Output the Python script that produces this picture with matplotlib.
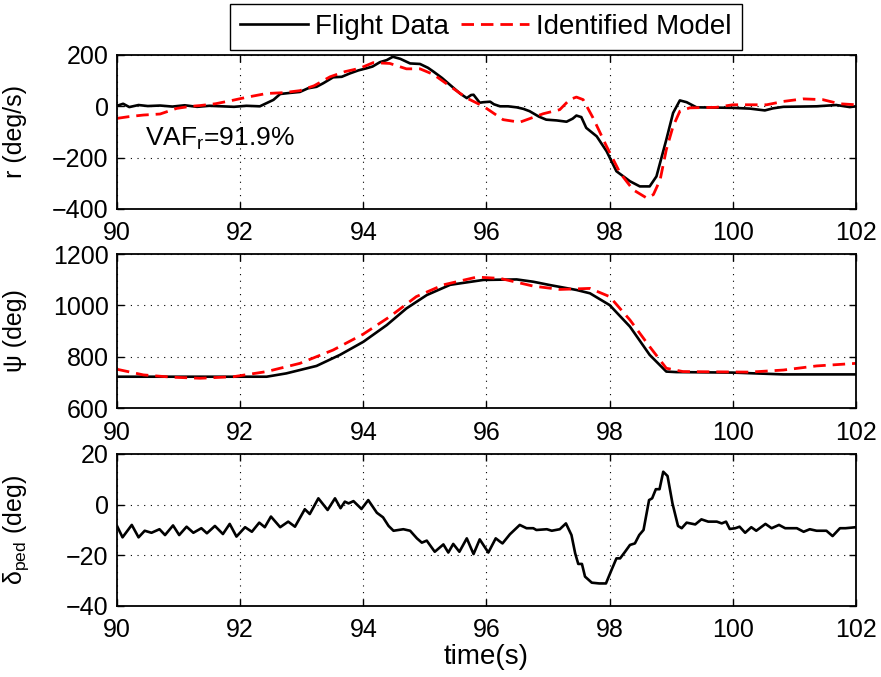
import matplotlib.pyplot as plt

plt.rcParams['font.family'] = ['Liberation Sans', 'DejaVu Sans']
plt.rcParams['font.size'] = 18
plt.rcParams['mathtext.fontset'] = 'custom'
plt.rcParams['mathtext.rm'] = 'Liberation Sans'

# yaw rate r (deg/s)
t_r_flight = [90.00, 90.10, 90.20, 90.35, 90.50, 90.70, 90.90, 91.10, 91.30, 91.50,
              91.70, 91.90, 92.10, 92.32, 92.54, 92.65, 92.80, 92.97, 93.10, 93.24,
              93.35, 93.51, 93.65, 93.78, 93.92, 94.05, 94.15, 94.27, 94.38, 94.48,
              94.60, 94.76, 94.92, 95.05, 95.14, 95.28, 95.41, 95.57, 95.68, 95.75,
              95.79, 95.89, 95.95, 96.06, 96.12, 96.22, 96.35, 96.49, 96.60, 96.70,
              96.85, 96.97, 97.14, 97.30, 97.40, 97.46, 97.54, 97.62, 97.79, 97.95,
              98.11, 98.33, 98.49, 98.65, 98.76, 98.92, 99.03, 99.14, 99.25, 99.41,
              99.73, 100.00, 100.28, 100.52, 100.65, 100.82, 101.10, 101.36, 101.68,
              101.90, 102.00]
r_flight = [2, 10, -3, 5, 1, 3, -1, 4, -2, 2,
            0, -2, 2, 0, 25, 48, 52, 56, 70, 76,
            90, 113, 115, 128, 140, 148, 155, 172, 180, 193,
            185, 167, 165, 150, 135, 110, 83, 50, 32, 44,
            45, 14, 16, 18, 8, 0, 0, -4, -10, -19,
            -40, -52, -55, -60, -48, -36, -42, -84, -117, -175,
            -253, -292, -312, -312, -273, -130, -26, 23, 16, -4,
            -5, -6, -9, -16, -8, -2, -1, 0, 5,
            -3, 0]

t_r_model = [90.00, 90.20, 90.43, 90.70, 90.97, 91.20, 91.35, 91.60, 91.89, 92.10,
             92.43, 92.70, 92.97, 93.20, 93.46, 93.70, 93.94, 94.16, 94.43, 94.70,
             94.92, 95.14, 95.41, 95.68, 95.95, 96.27, 96.54, 96.92, 97.19, 97.35,
             97.46, 97.57, 97.73, 97.95, 98.17, 98.38, 98.60, 98.71, 98.82, 98.92,
             99.03, 99.14, 99.30, 99.73, 100.00, 100.55, 100.82, 101.14, 101.46,
             101.73, 102.00]
r_model = [-47, -40, -34, -30, -8, 0, 3, 10, 24, 35,
           50, 53, 61, 80, 115, 135, 148, 170, 167, 146,
           146, 124, 78, 32, 0, -52, -62, -29, -13, 26,
           36, 26, -45, -156, -260, -325, -357, -344, -286, -169,
           -78, -19, -6, -4, 6, 6, 19, 29, 26,
           10, 6]

# heading psi (deg)
t_psi_flight = [90.0, 91.0, 92.0, 92.43, 92.75, 93.24, 93.62, 94.0, 94.38, 94.70,
                95.03, 95.41, 95.95, 96.49, 96.76, 97.03, 97.46, 97.68, 98.0, 98.33,
                98.65, 98.92, 99.08, 100.0, 100.82, 102.0]
psi_flight = [722, 722, 722, 722, 735, 764, 807, 858, 923, 988,
              1040, 1080, 1099, 1101, 1092, 1079, 1060, 1047, 1001, 917,
              807, 742, 740, 738, 731, 731]

t_psi_model = [90.0, 90.43, 90.9, 91.35, 91.89, 92.43, 92.97, 93.51, 94.0, 94.43,
               94.86, 95.30, 95.84, 96.22, 96.76, 97.19, 97.68, 98.0, 98.33, 98.65,
               98.92, 99.19, 100.28, 100.82, 101.36, 102.0]
psi_model = [751, 729, 720, 716, 722, 742, 774, 826, 888, 956,
             1034, 1080, 1110, 1105, 1075, 1062, 1066, 1034, 943, 839,
             755, 742, 740, 748, 764, 774]

# pedal input (deg)
t_ped = [90.00, 90.09, 90.24, 90.35, 90.45, 90.56, 90.69, 90.78, 90.91, 91.01,
         91.13, 91.24, 91.37, 91.46, 91.59, 91.72, 91.83, 91.94, 92.08, 92.19,
         92.31, 92.40, 92.50, 92.65, 92.78, 92.89, 93.05, 93.13, 93.27, 93.42,
         93.54, 93.63, 93.70, 93.76, 93.84, 93.97, 94.08, 94.22, 94.32, 94.41,
         94.49, 94.65, 94.76, 94.87, 94.95, 95.03, 95.16, 95.30, 95.38, 95.46,
         95.56, 95.68, 95.79, 95.89, 96.03, 96.15, 96.22, 96.26, 96.38, 96.54,
         96.65, 96.76, 96.81, 96.98, 97.06, 97.19, 97.29, 97.38, 97.44, 97.49,
         97.55, 97.60, 97.71, 97.83, 97.94, 98.03, 98.11, 98.17, 98.25, 98.33,
         98.41, 98.48, 98.55, 98.64, 98.69, 98.75, 98.81, 98.87, 98.94, 99.02,
         99.11, 99.17, 99.25, 99.39, 99.49, 99.60, 99.74, 99.82, 99.89, 99.95,
         100.04, 100.11, 100.20, 100.30, 100.38, 100.53, 100.63, 100.75, 100.85, 101.04,
         101.15, 101.25, 101.36, 101.52, 101.62, 101.74, 101.83, 102.00]
d_ped = [-8.4, -12.9, -8.0, -12.9, -10.3, -11.1, -9.7, -12.0, -8.2, -12.0,
         -8.7, -11.1, -9.3, -11.3, -8.4, -11.6, -7.6, -12.6, -8.9, -10.7,
         -7.1, -8.9, -4.7, -8.9, -6.7, -8.7, -1.8, -3.7, 2.5, -2.1,
         2.5, -1.4, 1.2, 0.5, 1.4, -1.7, 1.8, -3.2, -5.0, -8.4,
         -10.3, -9.7, -10.3, -13.3, -15.0, -14.2, -18.6, -15.7, -18.9, -15.5,
         -18.6, -13.3, -19.5, -13.7, -18.9, -13.3, -14.6, -15.3, -11.7, -8.0,
         -9.3, -9.3, -10.0, -9.7, -10.3, -9.7, -7.4, -12.0, -19.2, -23.4,
         -23.4, -28.4, -30.8, -31.1, -31.1, -25.8, -21.2, -21.2, -18.6, -15.9,
         -15.3, -12.0, -10.0, 1.8, 2.5, 6.1, 6.1, 13.0, 11.3, 0.5,
         -8.4, -9.3, -7.1, -7.8, -5.8, -6.7, -6.7, -7.4, -6.7, -9.6,
         -9.3, -8.7, -11.1, -8.9, -10.3, -7.6, -9.3, -8.0, -9.3, -9.3,
         -10.7, -9.7, -10.3, -10.3, -12.4, -9.3, -9.3, -8.9]

x_ticks = [90, 92, 94, 96, 98, 100, 102]

fig = plt.figure(figsize=(8.81, 6.77), dpi=100)
ax1 = fig.add_axes([0.1328, 0.6913, 0.8388, 0.2275])
ax2 = fig.add_axes([0.1328, 0.3973, 0.8388, 0.2275])
ax3 = fig.add_axes([0.1328, 0.1049, 0.8388, 0.2245])

black_kw = dict(color='k', lw=1.9)
red_kw = dict(color='r', lw=2.0, dashes=(4.5, 2.5))

h1, = ax1.plot(t_r_flight, r_flight, **black_kw)
h2, = ax1.plot(t_r_model, r_model, **red_kw)
ax1.set_ylim(-400, 200)
ax1.set_yticks([-400, -200, 0, 200])
ax1.set_ylabel('r (deg/s)')
ax1.text(90.45, -128, r'VAF$_{\mathrm{r}}$=91.9%', va='center', ha='left', fontsize=19)

ax2.plot(t_psi_flight, psi_flight, **black_kw)
ax2.plot(t_psi_model, psi_model, **red_kw)
ax2.set_ylim(600, 1200)
ax2.set_yticks([600, 800, 1000, 1200])
ax2.set_ylabel('ψ (deg)')

ax3.plot(t_ped, d_ped, **black_kw)
ax3.set_ylim(-40, 20)
ax3.set_yticks([-40, -20, 0, 20])
ax3.set_ylabel(r'$\mathrm{\delta_{ped}}$ (deg)')
ax3.set_xlabel('time(s)', fontsize=20, labelpad=1)

for ax in (ax1, ax2, ax3):
    ax.set_xlim(90, 102)
    ax.set_xticks(x_ticks)
    ax.grid(True, color='k', lw=0.8, linestyle=(0, (1, 5)))
    ax.tick_params(direction='in', top=True, right=True, length=5, width=1.0)
    ax.tick_params(axis='x', pad=9)
    ax.tick_params(axis='y', pad=6)
    ax.yaxis.set_label_coords(-0.122, 0.5)
    for s in ax.spines.values():
        s.set_linewidth(1.3)
ax3.yaxis.set_label_coords(-0.117, 0.5)

leg = fig.legend([h1, h2], ['Flight Data', 'Identified Model'], loc='center',
                 bbox_to_anchor=(0.5516, 0.960), ncol=2, fancybox=False,
                 edgecolor='k', fontsize=20, handlelength=2.45, handletextpad=0.25,
                 columnspacing=0.45, borderpad=0.35, borderaxespad=0)
leg.get_frame().set_linewidth(1.0)
leg.get_frame().set_alpha(1)

fig.savefig('out.png', dpi=100)
